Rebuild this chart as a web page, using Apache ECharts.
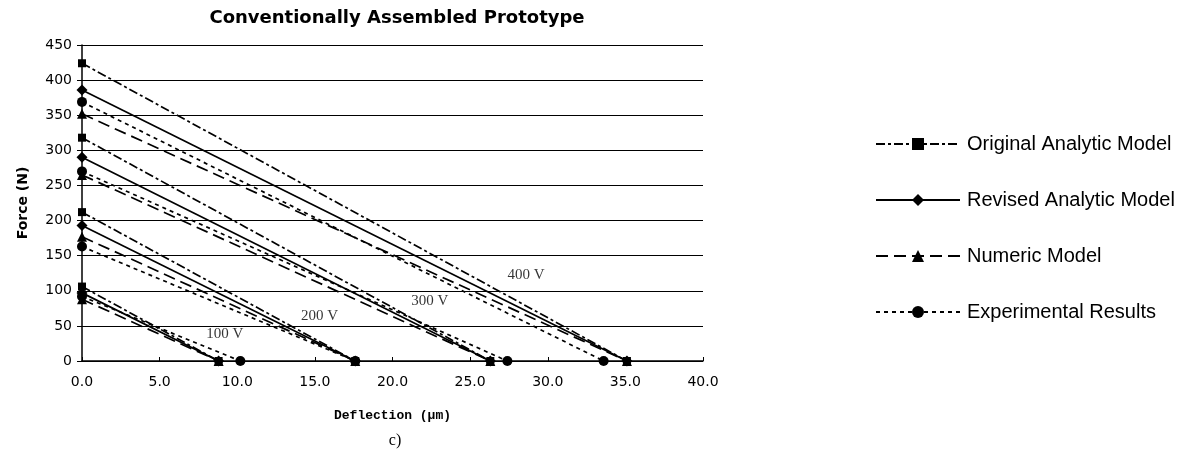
<!DOCTYPE html>
<html>
<head>
<meta charset="utf-8">
<script src="https://cdn.jsdelivr.net/npm/echarts@6/dist/echarts.min.js"></script>
<style>
  html, body { margin: 0; padding: 0; background: #fff; }
  #chart { width: 1186px; height: 462px; }
</style>
</head>
<body>
<div id="chart"></div>
<script>
// force at zero deflection and free deflection, per voltage (100, 200, 300, 400 V)
const voltages = ['100 V', '200 V', '300 V', '400 V'];
const originalForce = [106, 212, 318, 424];
const originalDefl = [8.8, 17.6, 26.3, 35.1];
const revisedForce = [97, 193, 290, 386];
const revisedDefl = [8.8, 17.6, 26.3, 35.1];
const numericForce = [88, 177, 265, 352];
const numericDefl = [8.8, 17.6, 26.3, 35.1];
const experimentalForce = [92, 163, 270, 369];
const experimentalDefl = [10.2, 17.6, 27.4, 33.6];
// where the voltage labels sit, in data units
const labelX = [9.2, 15.3, 22.4, 28.6];
const labelY = [38, 64, 86, 122];

document.addEventListener('DOMContentLoaded', () => {
  const chart = echarts.init(document.getElementById('chart'));

  const models = [
    { name: 'Original Analytic Model', force: originalForce, defl: originalDefl, symbol: 'rect', size: 8, dash: [9, 3, 3, 3] },
    { name: 'Revised Analytic Model', force: revisedForce, defl: revisedDefl, symbol: 'diamond', size: 11, dash: 'solid' },
    { name: 'Numeric Model', force: numericForce, defl: numericDefl, symbol: 'triangle', size: 10, dash: [12, 6] },
    { name: 'Experimental Results', force: experimentalForce, defl: experimentalDefl, symbol: 'circle', size: 10, dash: [4, 4] }
  ];

  const series = [];
  models.forEach(m => {
    m.force.forEach((f, i) => {
      series.push({
        name: m.name,
        type: 'line',
        data: [[0, f], [m.defl[i], 0]],
        symbol: m.symbol,
        symbolSize: m.size,
        showAllSymbol: true,
        itemStyle: { color: '#000' },
        lineStyle: { color: '#000', width: 1.7, type: m.dash },
        emphasis: { disabled: true },
        z: 3
      });
    });
  });

  series.push({
    type: 'scatter',
    data: voltages.map((v, i) => [labelX[i], labelY[i], v]),
    symbolSize: 0,
    label: {
      show: true,
      position: 'inside',
      formatter: p => p.value[2],
      fontFamily: 'Liberation Serif',
      fontSize: 15,
      color: '#000'
    },
    silent: true,
    z: 4
  });

  const option = {
    animation: false,
    title: [
      {
        text: 'Conventionally Assembled Prototype',
        left: 392,
        top: 4,
        textAlign: 'center',
        textStyle: { fontFamily: 'DejaVu Sans', fontWeight: 'bold', fontSize: 18, color: '#000' }
      },
      {
        text: 'c)',
        left: 390,
        top: 428,
        textAlign: 'center',
        textStyle: { fontFamily: 'Liberation Serif', fontWeight: 'normal', fontSize: 16, color: '#000' }
      }
    ],
    legend: {
      orient: 'vertical',
      left: 870,
      top: 129,
      itemWidth: 84,
      itemHeight: 15,
      itemGap: 36,
      data: models.map(m => m.name),
      textStyle: { fontFamily: 'Liberation Sans', fontSize: 20, color: '#000', padding: [0, 0, 0, 2] }
    },
    grid: { left: 82, right: 483, top: 45, height: 316, containLabel: false },
    xAxis: {
      type: 'value',
      min: 0,
      max: 40,
      interval: 5,
      name: 'Deflection (\u03bcm)',
      nameLocation: 'middle',
      nameGap: 48,
      nameTextStyle: { fontFamily: 'Liberation Mono', fontWeight: 'bold', fontSize: 13, color: '#000' },
      axisLine: { lineStyle: { color: '#000', width: 1.5 } },
      axisTick: { show: true, inside: true, length: 4, lineStyle: { color: '#000' } },
      axisLabel: { formatter: v => v.toFixed(1), fontFamily: 'DejaVu Sans', fontSize: 14, color: '#000', margin: 14 },
      splitLine: { show: false }
    },
    yAxis: {
      type: 'value',
      min: 0,
      max: 450,
      interval: 50,
      name: 'Force (N)',
      nameLocation: 'middle',
      nameGap: 52,
      nameTextStyle: { fontFamily: 'DejaVu Sans', fontWeight: 'bold', fontSize: 14, color: '#000' },
      axisLine: { show: true, lineStyle: { color: '#000', width: 1.5 } },
      axisTick: { show: true, length: 5, lineStyle: { color: '#000' } },
      axisLabel: { fontFamily: 'DejaVu Sans', fontSize: 14, color: '#000', margin: 10 },
      splitLine: { show: true, lineStyle: { color: '#000', width: 1.2 } }
    },
    series: series
  };

  chart.setOption(option);
});
</script>
</body>
</html>
